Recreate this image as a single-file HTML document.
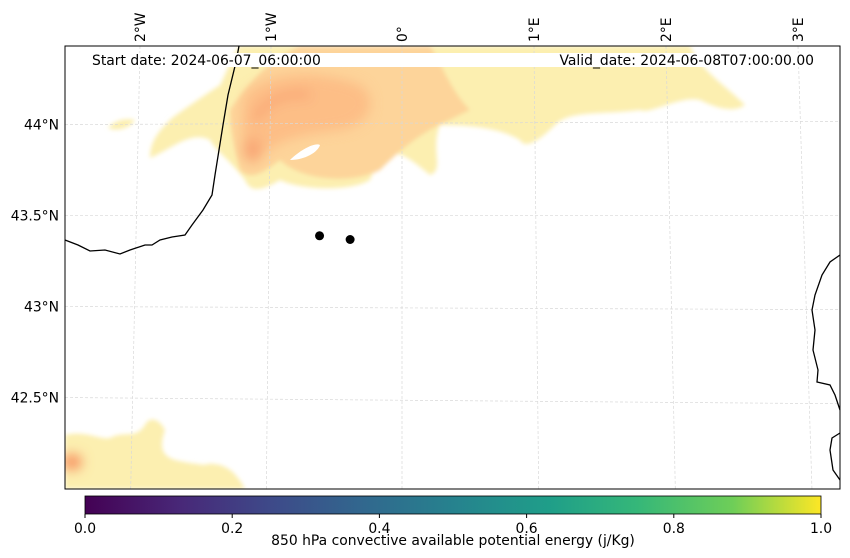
<!DOCTYPE html>
<html><head><meta charset="utf-8">
<style>
body{margin:0;background:#fff;width:850px;height:558px;overflow:hidden;font-family:"Liberation Sans","DejaVu Sans",sans-serif}
svg{display:block}
text{font-family:"DejaVu Sans","Liberation Sans",sans-serif;font-size:13.9px;fill:#000}
</style></head>
<body>
<svg id="chart" width="850" height="558">
<defs>
<clipPath id="mapclip"><rect x="65" y="46" width="775" height="443"/></clipPath>
<filter id="blur" x="-20%" y="-20%" width="140%" height="140%"><feGaussianBlur stdDeviation="6"/></filter>
<filter id="blur2" x="-20%" y="-20%" width="140%" height="140%"><feGaussianBlur stdDeviation="2"/></filter>
<linearGradient id="viridis" x1="0" x2="1" y1="0" y2="0">
<stop offset="0" stop-color="#440154"/><stop offset="0.13" stop-color="#482878"/><stop offset="0.25" stop-color="#3e4989"/>
<stop offset="0.38" stop-color="#31688e"/><stop offset="0.5" stop-color="#26828e"/><stop offset="0.63" stop-color="#1f9e89"/>
<stop offset="0.75" stop-color="#35b779"/><stop offset="0.88" stop-color="#6ece58"/><stop offset="1" stop-color="#fde725"/>
</linearGradient>
</defs>
<g clip-path="url(#mapclip)">
 <g filter="url(#blur2)">
  <path d="M240,46 L690,46 C700,70 725,85 745,105 C735,112 720,110 700,100 C680,95 650,115 640,110 C600,115 570,110 555,125 C540,140 525,150 520,140 C500,128 470,125 440,125 C430,150 445,170 430,175 C400,150 385,140 370,180 C350,192 300,190 280,180 C260,192 250,192 245,180 C230,160 215,150 210,140 C190,130 170,150 150,158 C150,140 160,130 172,118 C190,105 205,95 220,85 C228,70 232,55 240,46 Z" fill="#fcefb0"/>
  <path d="M108,128 C115,120 125,118 135,120 C130,128 118,132 108,128 Z" fill="#fcefb0"/>
  <path d="M300,46 L430,46 C440,60 450,90 470,110 C440,125 420,130 380,170 C350,185 300,180 280,160 C260,175 250,180 240,170 C235,150 230,130 230,110 C250,80 270,60 300,46 Z" fill="#fdd49a"/>
  <path d="M65,435 C85,430 100,440 110,438 C125,430 135,440 145,425 C150,415 160,420 165,430 C160,445 160,455 175,460 C195,465 215,465 230,470 C240,478 245,489 245,489 L65,489 Z" fill="#fcefb0"/>
  <path d="M190,489 C195,470 200,460 220,465 C235,470 240,480 240,489 Z" fill="#fcefb0"/>
 </g>
 <g filter="url(#blur)">
  <path d="M245,95 C270,70 320,70 360,85 C380,100 370,125 340,130 C300,135 270,140 255,165 C245,160 238,130 245,95 Z" fill="#fdba82" opacity="0.85"/>
  <path d="M255,120 C265,100 285,92 310,95" stroke="#f9a070" stroke-width="8" fill="none" opacity="0.8"/>
  <ellipse cx="252" cy="150" rx="9" ry="12" fill="#f8a070" opacity="0.8"/>
  <ellipse cx="72" cy="462" rx="10" ry="8" fill="#f7905e"/>
 </g>
 <path d="M290,160 C300,150 315,142 320,145 C318,152 305,160 290,160 Z" fill="#fff"/>
</g>
<g id="grid" stroke="#d8d8d8" stroke-width="0.7" stroke-dasharray="3,2" fill="none"></g>
<g id="coast" fill="none" stroke="#000" stroke-width="1.3">
 <path d="M239,46 L236,62 L228,95 L223,125 L215,175 L212,195 L203,210 L192,225 L185,235 L172,237 L160,240 L152,245 L145,245 L130,250 L120,254 L105,250 L90,251 L78,245 L65,240"/>
 <path d="M840,255 L830,262 L822,275 L815,295 L812,310 L815,330 L813,350 L818,370 L817,382 L830,385 L835,395 L840,410"/>
 <path d="M840,433 L832,438 L830,450 L833,470 L840,480"/>
</g>
<rect x="90" y="53" width="750" height="14" fill="#fff"/>
<text x="92" y="65">Start date: 2024-06-07_06:00:00</text>
<text x="814" y="65" text-anchor="end">Valid_date: 2024-06-08T07:00:00.00</text>
<g id="points"></g>
<rect x="65" y="46" width="775" height="443" fill="none" stroke="#000" stroke-width="1"/>
<g id="latlabels"></g>
<g id="lonlabels"></g>
<rect x="85" y="496" width="736" height="18" fill="url(#viridis)" stroke="#000" stroke-width="0.8"/>
<g id="cbticks"></g>
<text x="453" y="545" text-anchor="middle">850 hPa convective available potential energy (j/Kg)</text>
</svg>
<script>
const latValues=[44,43.5,43,42.5];
const latLabels=["44°N","43.5°N","43°N","42.5°N"];
const lonValues=[-2,-1,0,1,2,3];
const lonLabels=["2°W","1°W","0°","1°E","2°E","3°E"];
const cbTicks=[0,0.2,0.4,0.6,0.8,1.0];
const cbTickLabels=["0.0","0.2","0.4","0.6","0.8","1.0"];
const pointLon=[-0.62,-0.39];
const pointLat=[43.39,43.37];

const NS="http://www.w3.org/2000/svg";
function latY(lat,x){return 123+(44-lat)*182+(x-65)*0.004*(44-lat)*2-(x-450)*0.004;}
function lonXtop(lon){return 402+lon*130.5+(lon>0?lon*1.5:lon*0.5);}
function lonX(lon,y){return lonXtop(lon)+(y-46)*lon*0.0105;}
function cbX(v){return 85+v*736;}
function mk(tag,attrs,parent){const e=document.createElementNS(NS,tag);for(const k in attrs)e.setAttribute(k,attrs[k]);parent.appendChild(e);return e;}
const grid=document.getElementById('grid');
latValues.forEach((lat,i)=>{
 const l=mk('line',{x1:65,y1:latY(lat,65),x2:840,y2:latY(lat,840)},grid);
 
 
 const t=mk('text',{x:59,y:latY(lat,65)+5,'text-anchor':'end'},document.getElementById('latlabels'));
 t.textContent=latLabels[i];
 
 
});
lonValues.forEach((lon,i)=>{
 const l=mk('line',{x1:lonX(lon,46),y1:46,x2:lonX(lon,489),y2:489},grid);
 
 
 const x=lonX(lon,46)+5;
 const t=mk('text',{x:x,y:42,transform:`rotate(-90 ${x} 42)`},document.getElementById('lonlabels'));
 t.textContent=lonLabels[i];
 
 
});
const pts=document.getElementById('points');
pointLon.forEach((lon,i)=>{
 const y=latY(pointLat[i],lonXtop(lon)); const x=lonX(lon,y);
 const c=mk('circle',{cx:x,cy:y,r:4.5,fill:'#000'},pts);
 
 
});
const cb=document.getElementById('cbticks');
cbTicks.forEach((v,i)=>{
 const l=mk('line',{x1:cbX(v),y1:514,x2:cbX(v),y2:518,stroke:'#000'},cb);
 
 
 const t=mk('text',{x:cbX(v),y:533,'text-anchor':'middle'},cb);
 t.textContent=cbTickLabels[i];
 
 
});
</script>
</body></html>
